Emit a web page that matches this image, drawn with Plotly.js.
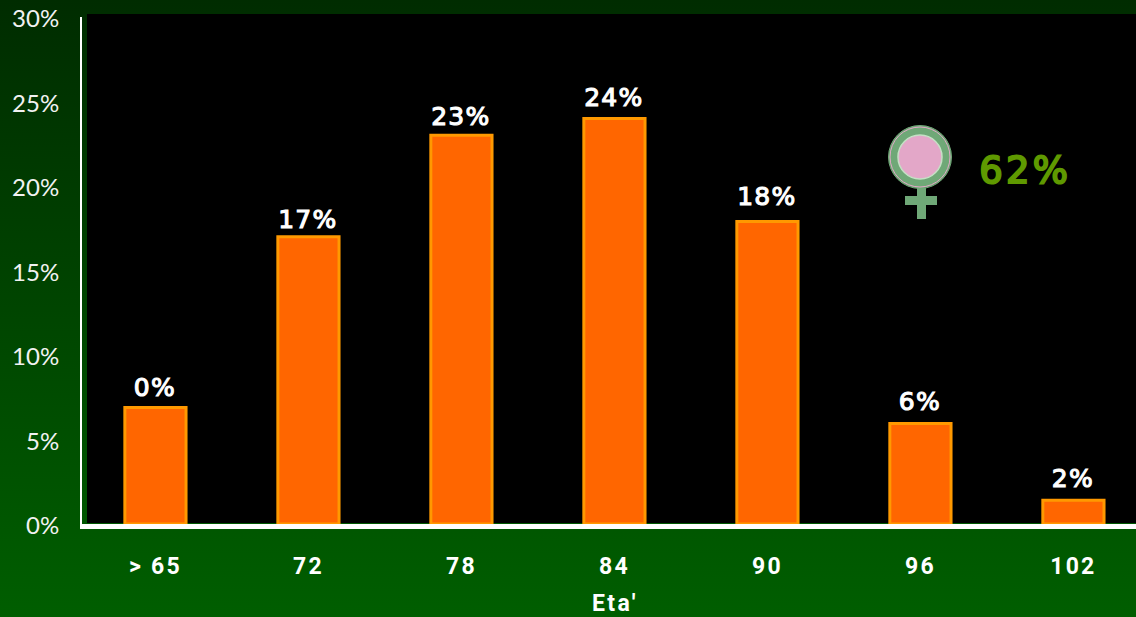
<!DOCTYPE html>
<html>
<head>
<meta charset="utf-8">
<script src="https://cdn.plot.ly/plotly-3.0.1.min.js"></script>
<style>
html,body{margin:0;padding:0;width:1136px;height:617px;overflow:hidden;background:linear-gradient(to bottom,#002c00 0%,#005e00 100%);}
#chart{width:1136px;height:617px;}
.xtick text{letter-spacing:2.2px;}
.g-xtitle{transform:translateX(6px);}
.g-xtitle text{letter-spacing:2.4px;}
.annotation-text-g text{letter-spacing:1.2px;stroke-width:1.1px;stroke:#ffffff;}
.annotation[data-index="7"] .annotation-text-g text{letter-spacing:3.2px;stroke-width:2px;stroke:#5f9900;}
</style>
</head>
<body>
<div id="chart"></div>
<script>
var categories = ['> 65','72','78','84','90','96','102'];
var values = [6.9,17,23,24,17.9,5.95,1.4];
var valueLabels = ['0%','17%','23%','24%','18%','6%','2%'];
var yTicks = [0,5,10,15,20,25,30];
var yTickLabels = ['0%','5%','10%','15%','20%','25%','30%'];
var femaleShare = '62%';

var W = 1136, H = 617, L = 82, T = 17, B = 524;
var labelLift = [20,17,19,21,25,22,22];
function px(x){return (x-L)/(W-L);}
function py(y){return (B-y)/(B-T);}
function rect(x0,y0,x1,y1,color,layer){
  return {type:'rect',xref:'paper',yref:'paper',x0:px(x0),x1:px(x1),y0:py(y1),y1:py(y0),
    fillcolor:color,line:{width:0},layer:layer||'above'};
}
function circle(cx,cy,r,fill,lineColor,lw){
  return {type:'circle',xref:'paper',yref:'paper',x0:px(cx-r),x1:px(cx+r),y0:py(cy+r),y1:py(cy-r),
    fillcolor:fill,line:{color:lineColor,width:lw},layer:'above'};
}

var data = [{
  type:'bar',
  x:categories,
  y:values,
  width:0.4,
  marker:{color:'#ff6600',line:{color:'#ff9900',width:3}},
  hoverinfo:'x+y'
}];

var annotations = categories.map(function(c,i){
  return {x:i,y:values[i],xref:'x',yref:'y',yanchor:'middle',xanchor:'center',yshift:labelLift[i],showarrow:false,
    text:valueLabels[i],
    font:{family:'"DejaVu Sans", sans-serif',size:25,color:'#ffffff'}};
});
annotations.push({
  xref:'paper',yref:'paper',x:px(1025),y:py(170),xanchor:'center',yanchor:'middle',showarrow:false,
  text:femaleShare,
  font:{family:'"DejaVu Sans", sans-serif',size:37,color:'#5f9900'}
});

var layout = {
  width:W,height:H,
  margin:{l:L,r:0,t:T,b:H-B,pad:0},
  paper_bgcolor:'rgba(0,0,0,0)',
  plot_bgcolor:'rgba(0,0,0,0)',
  showlegend:false,
  xaxis:{
    type:'category',
    range:[-0.48,6.409],
    showgrid:false,zeroline:false,
    showline:true,linecolor:'#ffffff',linewidth:5,
    ticks:'',ticklen:0,
    ticklabelstandoff:17,
    tickfont:{family:'Roboto, sans-serif',size:23,color:'#ffffff',weight:700},
    title:{text:"Eta'",standoff:18,font:{family:'Roboto, sans-serif',size:23,color:'#ffffff',weight:700}}
  },
  yaxis:{
    range:[0,30],
    tickvals:yTicks,ticktext:yTickLabels,
    showgrid:false,zeroline:false,
    showline:true,linecolor:'#ffffff',linewidth:2,
    ticks:'',
    ticklabelstandoff:16,
    ticklabelshift:2,
    tickfont:{family:'Lato, sans-serif',size:24,color:'#f2f2f2'}
  },
  shapes:[
    rect(87,14,1136,523,'#000000','below'),
    rect(917,188,926,219,'#6fa877'),
    rect(905,196,937,205,'#6fa877'),
    circle(920,157,31.5,'#6fa877','#6fa877',1),
    circle(920,157,30,'rgba(0,0,0,0)','#e3a7c8',1),
    circle(920,157,22,'#e3a7c8','#c5e0c5',1.5)
  ],
  annotations:annotations
};
Plotly.newPlot('chart',data,layout,{displayModeBar:false,staticPlot:true});
</script>
</body>
</html>
